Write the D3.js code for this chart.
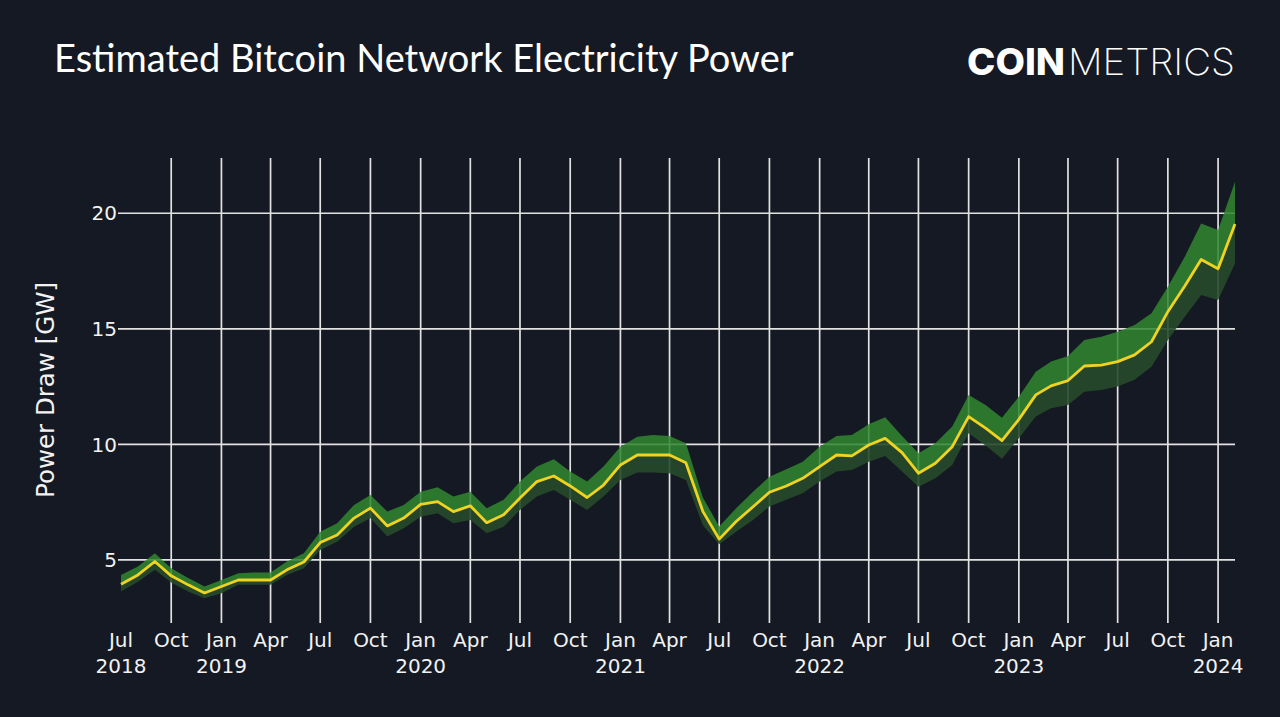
<!DOCTYPE html>
<html>
<head>
<meta charset="utf-8">
<script src="https://cdn.jsdelivr.net/npm/d3@7"></script>
<style>
  html, body { margin: 0; padding: 0; background: #151923; }
  svg { display: block; }
</style>
</head>
<body>
<svg id="chart" width="1280" height="717"></svg>
<script>
// ---- Data (monthly, Jul 2018 – Feb 2024) ----
const months = [
  "2018-07","2018-08","2018-09","2018-10","2018-11","2018-12",
  "2019-01","2019-02","2019-03","2019-04","2019-05","2019-06","2019-07","2019-08","2019-09","2019-10","2019-11","2019-12",
  "2020-01","2020-02","2020-03","2020-04","2020-05","2020-06","2020-07","2020-08","2020-09","2020-10","2020-11","2020-12",
  "2021-01","2021-02","2021-03","2021-04","2021-05","2021-06","2021-07","2021-08","2021-09","2021-10","2021-11","2021-12",
  "2022-01","2022-02","2022-03","2022-04","2022-05","2022-06","2022-07","2022-08","2022-09","2022-10","2022-11","2022-12",
  "2023-01","2023-02","2023-03","2023-04","2023-05","2023-06","2023-07","2023-08","2023-09","2023-10","2023-11","2023-12",
  "2024-01","2024-02"
];
const powerMid = [
  3.95, 4.35, 4.93, 4.31, 3.92, 3.57,
  3.85, 4.13, 4.13, 4.13, 4.57, 4.91, 5.75, 6.08, 6.81, 7.24, 6.47, 6.81,
  7.40, 7.52, 7.09, 7.34, 6.61, 6.95, 7.68, 8.39, 8.63, 8.20, 7.70, 8.24,
  9.11, 9.54, 9.54, 9.54, 9.20, 7.10, 5.90, 6.66, 7.30, 7.93, 8.20, 8.53,
  9.04, 9.54, 9.50, 9.97, 10.26, 9.64, 8.75, 9.18, 9.90, 11.20, 10.70, 10.16,
  11.08, 12.14, 12.53, 12.76, 13.39, 13.43, 13.58, 13.87, 14.44, 15.74, 16.85, 18.00,
  17.60, 19.53
];
const powerUpper = [
  4.35, 4.71, 5.29, 4.64, 4.22, 3.85,
  4.13, 4.42, 4.45, 4.45, 4.93, 5.29, 6.22, 6.59, 7.38, 7.81, 7.09, 7.38,
  7.95, 8.14, 7.74, 7.95, 7.24, 7.60, 8.39, 9.04, 9.36, 8.82, 8.39, 9.04,
  9.90, 10.33, 10.40, 10.36, 10.05, 7.70, 6.45, 7.24, 7.95, 8.60, 8.92, 9.25,
  9.90, 10.36, 10.40, 10.87, 11.17, 10.36, 9.61, 10.05, 10.77, 12.14, 11.70, 11.15,
  12.06, 13.14, 13.58, 13.82, 14.51, 14.66, 14.87, 15.16, 15.67, 16.82, 18.12, 19.56,
  19.27, 21.36
];
const powerLower = [
  3.63, 4.06, 4.57, 4.02, 3.63, 3.34,
  3.56, 3.92, 3.92, 3.92, 4.35, 4.64, 5.43, 5.79, 6.44, 6.80, 6.01, 6.37,
  6.87, 7.02, 6.59, 6.73, 6.15, 6.44, 7.16, 7.74, 8.03, 7.60, 7.16, 7.74,
  8.46, 8.78, 8.78, 8.75, 8.46, 6.50, 5.68, 6.22, 6.73, 7.31, 7.60, 7.88,
  8.39, 8.82, 8.89, 9.25, 9.50, 8.82, 8.17, 8.53, 9.11, 10.48, 9.95, 9.38,
  10.26, 11.20, 11.56, 11.70, 12.28, 12.35, 12.50, 12.79, 13.36, 14.51, 15.52, 16.46,
  16.25, 17.83
];
const yTicks = [5, 10, 15, 20];
const monthNames = ["Jan","Feb","Mar","Apr","May","Jun","Jul","Aug","Sep","Oct","Nov","Dec"];
const titleText = "Estimated Bitcoin Network Electricity Power";
const yAxisTitle = "Power Draw [GW]";

// ---- Layout ----
const plot = { left: 121, right: 1235, top: 158, bottom: 623 };
const parse = d3.utcParse("%Y-%m");
const data = months.map((m, i) => ({
  date: parse(m), mid: powerMid[i], hi: powerUpper[i], lo: powerLower[i]
}));

const x = d3.scaleUtc()
  .domain([parse("2018-07"), parse("2024-02")])
  .range([plot.left, plot.right]);
const y = d3.scaleLinear()
  .domain([2.27, 22.39])
  .range([plot.bottom, plot.top]);

const svg = d3.select("#chart");
svg.append("rect").attr("width", 1280).attr("height", 717).attr("fill", "#151923");

// ---- Gridlines ----
const xTicks = d3.utcMonth.every(3).range(parse("2018-07"), parse("2024-02"));
const grid = svg.append("g");
grid.selectAll("line.v").data(xTicks.filter(d => x(d) > plot.left + 2))
  .join("line").attr("class", "v")
  .attr("x1", d => x(d)).attr("x2", d => x(d))
  .attr("y1", plot.top).attr("y2", plot.bottom)
  .attr("stroke", "#e2e2e2").attr("stroke-width", 1.7);
grid.selectAll("line.h").data(yTicks)
  .join("line").attr("class", "h")
  .attr("x1", plot.left - 3).attr("x2", plot.right)
  .attr("y1", d => y(d)).attr("y2", d => y(d))
  .attr("stroke", "#e2e2e2").attr("stroke-width", 1.7);

// ---- Bands ----
const lowerArea = d3.area().x(d => x(d.date)).y0(d => y(d.lo)).y1(d => y(d.mid));
const upperArea = d3.area().x(d => x(d.date)).y0(d => y(d.mid)).y1(d => y(d.hi));
svg.append("path").datum(data).attr("d", lowerArea)
  .attr("fill", "rgb(38,74,42)").attr("fill-opacity", 0.9);
svg.append("path").datum(data).attr("d", upperArea)
  .attr("fill", "rgb(48,135,48)").attr("fill-opacity", 0.85);

// ---- Line ----
const line = d3.line().x(d => x(d.date)).y(d => y(d.mid));
svg.append("path").datum(data).attr("d", line)
  .attr("fill", "none").attr("stroke", "#f0d322").attr("stroke-width", 2.8)
  .attr("stroke-linejoin", "round");

// ---- Y axis labels ----
const axFont = "'DejaVu Sans', Verdana, sans-serif";
svg.append("g").selectAll("text").data(yTicks).join("text")
  .attr("x", plot.left - 4).attr("y", d => y(d)).attr("dy", "0.36em")
  .attr("text-anchor", "end").attr("fill", "#f2f2f2")
  .attr("font-family", axFont).attr("font-size", 20)
  .text(d => d);

svg.append("text")
  .attr("transform", "translate(54,390) rotate(-90)")
  .attr("text-anchor", "middle").attr("fill", "#f2f2f2")
  .attr("font-family", axFont).attr("font-size", 24.5)
  .text(yAxisTitle);

// ---- X axis labels ----
const xl = svg.append("g");
xTicks.forEach((d, i) => {
  const m = d.getUTCMonth();
  xl.append("text").attr("x", x(d)).attr("y", 647)
    .attr("text-anchor", "middle").attr("fill", "#f2f2f2")
    .attr("font-family", axFont).attr("font-size", 20)
    .text(monthNames[m]);
  if (m === 0 || i === 0) {
    xl.append("text").attr("x", x(d)).attr("y", 673)
      .attr("text-anchor", "middle").attr("fill", "#f2f2f2")
      .attr("font-family", axFont).attr("font-size", 20)
      .text(d.getUTCFullYear());
  }
});

// ---- Title ----
svg.append("text").attr("x", 54).attr("y", 72)
  .attr("fill", "#ffffff").attr("font-family", "Lato, 'Open Sans', sans-serif")
  .attr("font-size", 38).text(titleText);

// ---- Logo ----
svg.append("text").attr("x", 967).attr("y", 75)
  .attr("fill", "#ffffff").attr("font-family", "Inter, Lato, sans-serif")
  .attr("font-weight", 800).attr("font-size", 37)
  .attr("textLength", 98).attr("lengthAdjust", "spacingAndGlyphs")
  .text("COIN");
svg.append("text").attr("x", 1068).attr("y", 75)
  .attr("fill", "#ffffff").attr("font-family", "Inter, Lato, sans-serif")
  .attr("font-weight", 200).attr("font-size", 37)
  .attr("textLength", 167).attr("lengthAdjust", "spacingAndGlyphs")
  .text("METRICS");
</script>
</body>
</html>
